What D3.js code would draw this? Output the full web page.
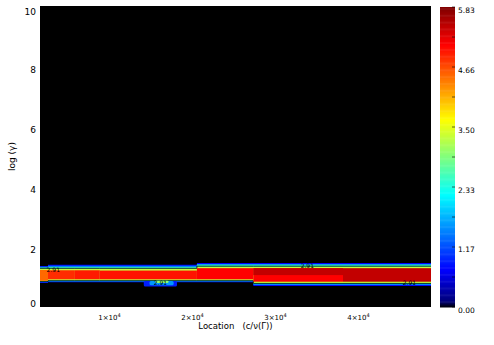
<!DOCTYPE html>
<html>
<head>
<meta charset="utf-8">
<script src="https://cdn.jsdelivr.net/npm/d3@7"></script>
<style>
  body { margin: 0; background: #fff; }
  text { font-family: "DejaVu Sans", sans-serif; fill: #000; }
</style>
</head>
<body>
<div id="chart"></div>
<script>
// segment starts along the location axis, last entry is the right end
var segStart = [1700, 2660, 5900, 8900, 20600, 27400, 38200, 48800];

// contour shells (outer to inner): value, lower and upper log(gamma) edge per segment
var shellValue = [0.75, 1.5, 2.5, 3.3];
var shellLow = [
  [0.80, 0.82, 0.82, 0.82, 0.82, 0.70, 0.70],
  [0.82, 0.84, 0.84, 0.84, 0.84, 0.73, 0.73],
  [0.84, 0.86, 0.86, 0.86, 0.86, 0.76, 0.76],
  [0.86, 0.89, 0.89, 0.89, 0.89, 0.80, 0.80]
];
var shellHigh = [
  [1.36, 1.40, 1.40, 1.40, 1.46, 1.46, 1.46],
  [1.34, 1.37, 1.37, 1.37, 1.43, 1.43, 1.43],
  [1.31, 1.33, 1.33, 1.33, 1.40, 1.40, 1.40],
  [1.27, 1.27, 1.27, 1.27, 1.34, 1.34, 1.34]
];

// hot core of the beam
var coreValue = [4.5, 4.85, 4.95, 5.0, 5.1, 5.1, 5.45];
var coreLow   = [0.87, 0.92, 0.92, 0.92, 0.92, 0.84, 0.84];
var coreHigh  = [1.23, 1.22, 1.22, 1.21, 1.29, 1.29, 1.29];

// darker patch in the upper half of the wide part
var deepStart = [27400];
var deepEnd   = [38200];
var deepLow   = [1.06];
var deepHigh  = [1.29];
var deepValue = [5.45];

// small blob under the beam
var blobStart = [14200, 14900, 15600];
var blobEnd   = [18200, 17800, 17200];
var blobLow   = [0.68, 0.72, 0.80];
var blobHigh  = [0.86, 0.86, 0.87];
var blobValue = [0.9, 1.6, 3.0];

// contour labels
var labelLoc = [3300, 16200, 33900, 46200];
var labelLog = [1.22, 0.81, 1.38, 0.81];
var labelText = ["2.91", "2.91", "2.91", "2.91"];

var yTicks = [0, 2, 4, 6, 8, 10];
var xTicks = [10000, 20000, 30000, 40000];
var cbTicks = [0.00, 1.17, 2.33, 3.50, 4.66, 5.83];
var vMax = 5.83;

var W = 494, H = 345;
var svg = d3.select("#chart").append("svg")
  .attr("width", W).attr("height", H);

var x = d3.scaleLinear().domain([1700, 48800]).range([40, 431]);
var y = d3.scaleLinear().domain([0, 10]).range([307, 6]);

// jet-like colour table, black at zero
var color = d3.scaleLinear()
  .domain([0, 0.02, 0.125, 0.375, 0.625, 0.875, 1].map(function(t) { return t * vMax; }))
  .range(["#000000", "#00007a", "#0000ff", "#00ffff", "#ffff00", "#ff0000", "#800000"])
  .clamp(true);

// plot background
svg.append("rect")
  .attr("x", x(1700)).attr("y", y(10))
  .attr("width", x(48800) - x(1700)).attr("height", y(0) - y(10))
  .attr("fill", "#000");

var plot = svg.append("g");

function stepPoints(lo, hi) {
  var pts = lo.map(function(d, i) { return {x: segStart[i], lo: d, hi: hi[i]}; });
  pts.push({x: segStart[segStart.length - 1], lo: lo[lo.length - 1], hi: hi[hi.length - 1]});
  return pts;
}

var area = d3.area().curve(d3.curveStepAfter)
  .x(function(d) { return x(d.x); })
  .y0(function(d) { return y(d.lo); })
  .y1(function(d) { return y(d.hi); });

shellValue.forEach(function(v, k) {
  var pts = stepPoints(shellLow[k], shellHigh[k]);
  plot.append("path").datum(pts)
    .attr("d", area)
    .attr("fill", color(v));
});

// contour line at the 2.91 level
var pts3 = stepPoints(shellLow[3], shellHigh[3]);
[function(d) { return y(d.lo) + 0.5; }, function(d) { return y(d.hi) - 0.5; }].forEach(function(fy) {
  plot.append("path").datum(pts3)
    .attr("d", d3.line().curve(d3.curveStepAfter).x(function(d) { return x(d.x); }).y(fy))
    .attr("fill", "none")
    .attr("stroke", "#000")
    .attr("stroke-width", 0.8);
});

// core, one rect per segment
plot.selectAll(".core").data(coreValue).enter().append("rect")
  .attr("x", function(d, i) { return x(segStart[i]); })
  .attr("width", function(d, i) { return x(segStart[i + 1]) - x(segStart[i]); })
  .attr("y", function(d, i) { return y(coreHigh[i]); })
  .attr("height", function(d, i) { return y(coreLow[i]) - y(coreHigh[i]); })
  .attr("fill", function(d) { return color(d); });

plot.selectAll(".deep").data(deepValue).enter().append("rect")
  .attr("x", function(d, i) { return x(deepStart[i]); })
  .attr("width", function(d, i) { return x(deepEnd[i]) - x(deepStart[i]); })
  .attr("y", function(d, i) { return y(deepHigh[i]); })
  .attr("height", function(d, i) { return y(deepLow[i]) - y(deepHigh[i]); })
  .attr("fill", function(d) { return color(d); });

plot.selectAll(".blob").data(blobValue).enter().append("rect")
  .attr("x", function(d, i) { return x(blobStart[i]); })
  .attr("width", function(d, i) { return x(blobEnd[i]) - x(blobStart[i]); })
  .attr("y", function(d, i) { return y(blobHigh[i]); })
  .attr("height", function(d, i) { return y(blobLow[i]) - y(blobHigh[i]); })
  .attr("rx", 1.5)
  .attr("fill", function(d) { return color(d); });

plot.selectAll(".clab").data(labelText).enter().append("text")
  .attr("x", function(d, i) { return x(labelLoc[i]); })
  .attr("y", function(d, i) { return y(labelLog[i]); })
  .attr("dy", "0.35em")
  .attr("text-anchor", "middle")
  .style("font-size", "6px")
  .text(function(d) { return d; });

// Y axis
var yAxis = svg.append("g")
  .attr("transform", "translate(" + x(1700) + ",0)")
  .call(d3.axisLeft(y).tickValues(yTicks).tickSize(0).tickPadding(4));
yAxis.select(".domain").remove();
yAxis.selectAll("text")
  .attr("dy", function(d) { return d == 0 ? "-0.05em" : d == 10 ? "0.95em" : "0.65em"; })
  .style("font-size", "9px")
  .style("font-family", "DejaVu Sans");

svg.append("text")
  .attr("transform", "translate(15," + ((y(0) + y(10)) / 2) + ") rotate(-90)")
  .attr("text-anchor", "middle")
  .style("font-size", "9px")
  .text("log (γ)");

// X axis
var xAxis = svg.append("g")
  .attr("transform", "translate(0," + y(0) + ")")
  .call(d3.axisBottom(x).tickValues(xTicks).tickSize(0).tickPadding(6).tickFormat(""));
xAxis.select(".domain").remove();
xAxis.selectAll(".tick text").each(function(d) {
  var t = d3.select(this);
  t.append("tspan").style("font-size", "7px").text((d / 10000) + "×10");
  t.append("tspan").attr("dy", "-3").style("font-size", "5px").text("4");
});

svg.append("text")
  .attr("x", (x(1700) + x(48800)) / 2)
  .attr("y", 329)
  .attr("text-anchor", "middle")
  .style("font-size", "8.5px")
  .style("white-space", "pre")
  .text("Location   (c/ν(Γ))");

// colour bar
var cy = d3.scaleLinear().domain([0, vMax]).range([307, 7]);
var cb = svg.append("g");
cb.selectAll("rect").data(d3.range(0, 256)).enter().append("rect")
  .attr("x", 440).attr("width", 15)
  .attr("y", function(d) { return cy((d + 1) / 256 * vMax); })
  .attr("height", function(d) { return cy(d / 256 * vMax) - cy((d + 1) / 256 * vMax) + 0.5; })
  .attr("fill", function(d) { return color((d + 0.5) / 256 * vMax); });

cb.selectAll("line").data(d3.range(0, 11)).enter().append("line")
  .attr("x1", 452).attr("x2", 455)
  .attr("y1", function(d) { return cy(d / 10 * vMax); })
  .attr("y2", function(d) { return cy(d / 10 * vMax); })
  .attr("stroke", "#000").attr("stroke-opacity", 0.6);

cb.selectAll("text").data(cbTicks).enter().append("text")
  .attr("x", 458)
  .attr("y", function(d) { return cy(d); })
  .attr("dy", "0.75em")
  .style("font-size", "7.5px")
  .text(function(d) { return d.toFixed(2); });
</script>
</body>
</html>
